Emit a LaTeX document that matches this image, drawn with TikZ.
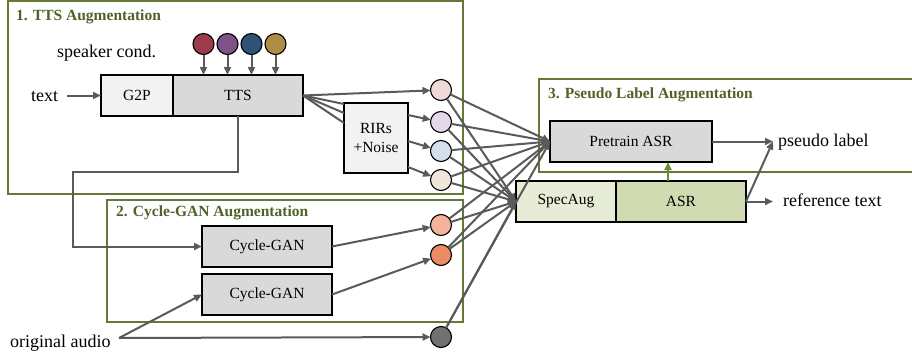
\documentclass[tikz,border=0pt]{standalone}
\usepackage{fontspec}
\setmainfont{Liberation Serif}
\usetikzlibrary{arrows.meta,calc}
\definecolor{framecol}{HTML}{657838}
\definecolor{titlecol}{HTML}{4F6228}
\definecolor{conncol}{HTML}{5A5A5A}
\definecolor{greenarr}{HTML}{6E8A36}
\definecolor{lightbox}{HTML}{F2F2F2}
\definecolor{midbox}{HTML}{D9D9D9}
\definecolor{specfill}{HTML}{E6ECD6}
\definecolor{asrfill}{HTML}{D1DBB1}
\definecolor{sA}{HTML}{9E3B4A}
\definecolor{sB}{HTML}{7E5289}
\definecolor{sC}{HTML}{2F5279}
\definecolor{sD}{HTML}{B08D47}
\definecolor{oA}{HTML}{F0D8D9}
\definecolor{oB}{HTML}{E5D9E9}
\definecolor{oC}{HTML}{D3E0EB}
\definecolor{oD}{HTML}{EFE7DA}
\definecolor{oE}{HTML}{F4B39B}
\definecolor{oF}{HTML}{EC8A63}
\definecolor{oG}{HTML}{717171}
\begin{document}
\begin{tikzpicture}[x=1pt,y=-1pt,
  boxnode/.style={draw=black,line width=1.2pt,inner sep=0pt,outer sep=0pt,
    font=\fontsize{15.5}{19}\selectfont,align=center},
  dot/.style={circle,draw=black,line width=1.1pt,minimum size=21pt,inner sep=0pt,outer sep=0pt},
  conn/.style={draw=conncol,line width=2pt,-{Triangle[length=8pt,width=7pt]}},
  plainconn/.style={draw=conncol,line width=2pt},
  framebox/.style={draw=framecol,line width=2pt},
  frametitle/.style={font=\fontsize{15.5}{18}\selectfont\bfseries,text=titlecol,anchor=base west,inner sep=0pt},
  lab/.style={font=\fontsize{18}{20}\selectfont,anchor=base west,inner sep=0pt}]
\useasboundingbox (0,0) rectangle (912,356);

% frames
\draw[framebox] (8,1) rectangle (463,194);
\draw[framebox] (107,200) rectangle (463,322);
\draw[framebox] (913,79) -- (539,79) -- (539,172) -- (913,172);
\node[frametitle] (t1) at (16,20) {1. TTS Augmentation};
\node[frametitle] (t2) at (116,216) {2. Cycle-GAN Augmentation};
\node[frametitle] (t3) at (548,98) {3. Pseudo Label Augmentation};

% boxes
\node[boxnode,fill=lightbox,minimum width=72pt,minimum height=41pt] (g2p) at (137,95.5) {G2P};
\node[boxnode,fill=midbox,minimum width=130pt,minimum height=41pt] (tts) at (238,95.5) {TTS};
\node[boxnode,fill=lightbox,minimum width=64pt,minimum height=70pt] (rirs) at (376,138) {RIRs\\+Noise};
\node[boxnode,fill=midbox,minimum width=130pt,minimum height=41pt] (cg1) at (267,246.5) {Cycle-GAN};
\node[boxnode,fill=midbox,minimum width=130pt,minimum height=41pt] (cg2) at (267,294.5) {Cycle-GAN};
\node[boxnode,fill=midbox,minimum width=162pt,minimum height=41pt] (pre) at (631,141.5) {Pretrain ASR};
\node[boxnode,fill=specfill,minimum width=100pt,minimum height=41pt] (spec) at (566,201.5) {SpecAug};
\node[boxnode,fill=asrfill,minimum width=130pt,minimum height=41pt] (asr) at (681,201.5) {ASR};

% labels
\node[lab] (spk) at (57,57) {speaker cond.};
\node[lab] (txt) at (31,101) {text};
\node[lab] (orig) at (10,347) {original audio};
\node[lab] (pl) at (778,146) {pseudo label};
\node[lab] (rt) at (783,206) {reference text};

% speaker circles
\node[dot,fill=sA] (s1) at (203.5,44) {};
\node[dot,fill=sB] (s2) at (227.5,44) {};
\node[dot,fill=sC] (s3) at (251.5,44) {};
\node[dot,fill=sD] (s4) at (275.5,44) {};
\foreach \s in {s1,s2,s3,s4}{\draw[conn] (\s) -- (\s |- tts.north);}

% output circles
\node[dot,fill=oA] (c1) at (441,90) {};
\node[dot,fill=oB] (c2) at (441,122) {};
\node[dot,fill=oC] (c3) at (441,151) {};
\node[dot,fill=oD] (c4) at (441,180) {};
\node[dot,fill=oE] (c5) at (441,225) {};
\node[dot,fill=oF] (c6) at (441,255) {};
\node[dot,fill=oG] (c7) at (441,337) {};

% text -> G2P
\coordinate (txtstart) at ($(g2p.west)+(-34,0)$);
\draw[conn] (txtstart) -- (g2p.west);

% TTS -> outputs
\draw[conn] (tts.east) -- (c1);
\draw[plainconn] (tts.east) -- ([yshift=-1pt]rirs.north west);
\draw[plainconn] (tts.east) -- ([yshift=-10pt]rirs.north west);
\draw[plainconn] (tts.east) -- ([yshift=-20pt]rirs.north west);
\draw[conn] ([yshift=-12pt]rirs.north east) -- (c2);
\draw[conn] ([yshift=-38pt]rirs.north east) -- (c3);
\draw[conn] ([yshift=-64pt]rirs.north east) -- (c4);

% TTS -> Cycle-GAN
\draw[conn] (tts.south) -- ++(0,55.5) -| ($(cg1.west)+(-129,0)$) -- (cg1.west);
\draw[conn] (cg1.east) -- (c5);
\draw[conn] (cg2.east) -- (c6);

% original audio
\coordinate (oa) at (119,338);
\draw[conn] (oa) -- (cg2.west);
\draw[conn] (oa) -- (c7);

% circles -> ASR
\foreach \c in {c1,c2,c3,c4,c5,c6,c7}{
  \draw[conn] (\c) -- (pre.west);
  \draw[conn] (\c) -- (spec.west);
}

% ASR outputs
\draw[-{Triangle[length=8pt,width=7pt]},draw=greenarr,fill=greenarr,line width=2pt]
  ([xshift=52pt]asr.north west) -- ([xshift=37pt]pre.south);
\coordinate (pltip) at ($(pre.east -| pl.west)+(-5,0)$);
\draw[conn] (pre.east) -- (pltip);
\draw[conn] (asr.east) -- (pltip);
\coordinate (rttip) at ($(asr.east -| rt.west)+(-10,0)$);
\draw[conn] (asr.east) -- (rttip);
\end{tikzpicture}
\end{document}
